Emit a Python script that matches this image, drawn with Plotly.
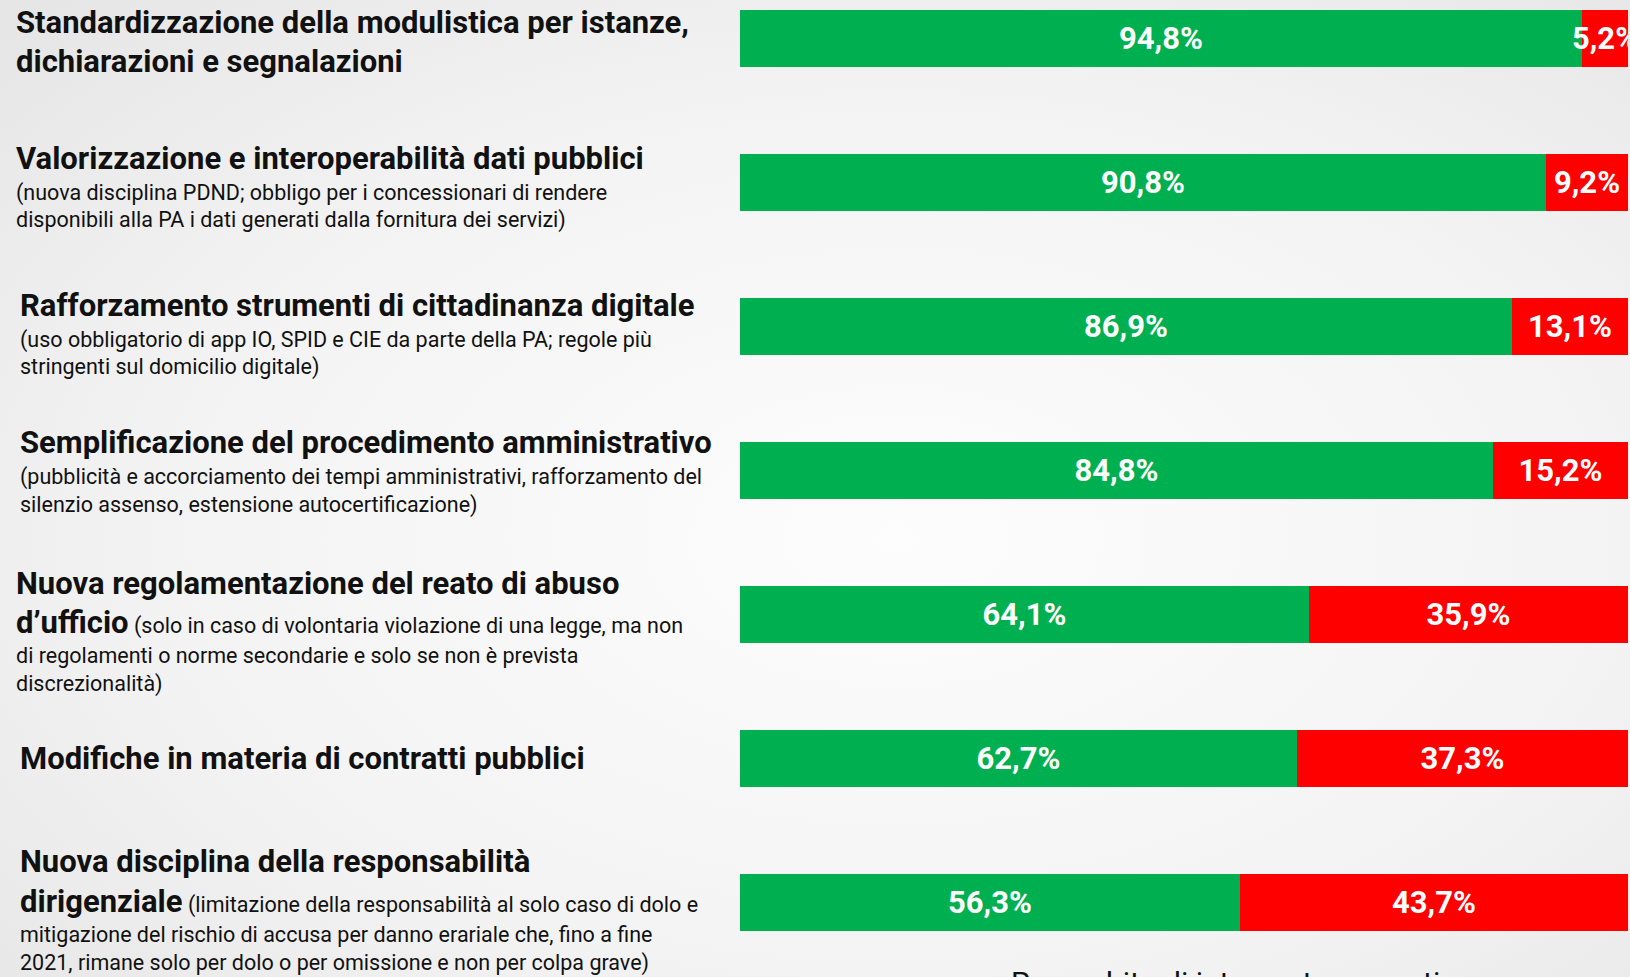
import base64
import plotly.graph_objects as go

# data
CATEGORIES = [
    'Standardizzazione modulistica',
    'Dati pubblici',
    'Cittadinanza digitale',
    'Procedimento amministrativo',
    'Abuso d\'ufficio',
    'Contratti pubblici',
    'Responsabilità dirigenziale',
]
FAVOREVOLI = [94.8, 90.8, 86.9, 84.8, 64.1, 62.7, 56.3]
CONTRARI = [5.2, 9.2, 13.1, 15.2, 35.9, 37.3, 43.7]

LABEL_LINES = [
    ['<b>Standardizzazione della modulistica per istanze,</b>',
     '<b>dichiarazioni e segnalazioni</b>'],
    ['<b>Valorizzazione e interoperabilità dati pubblici</b>',
     '(nuova disciplina PDND; obbligo per i concessionari di rendere',
     'disponibili alla PA i dati generati dalla fornitura dei servizi)'],
    ['<b>Rafforzamento strumenti di cittadinanza digitale</b>',
     '(uso obbligatorio di app IO, SPID e CIE da parte della PA; regole più',
     'stringenti sul domicilio digitale)'],
    ['<b>Semplificazione del procedimento amministrativo</b>',
     '(pubblicità e accorciamento dei tempi amministrativi, rafforzamento del',
     'silenzio assenso, estensione autocertificazione)'],
    ['<b>Nuova regolamentazione del reato di abuso</b>',
     '<b>d’ufficio</b> (solo in caso di volontaria violazione di una legge, ma non',
     'di regolamenti o norme secondarie e solo se non è prevista',
     'discrezionalità)'],
    ['<b>Modifiche in materia di contratti pubblici</b>'],
    ['<b>Nuova disciplina della responsabilità</b>',
     '<b>dirigenziale</b> (limitazione della responsabilità al solo caso di dolo e',
     'mitigazione del rischio di accusa per danno erariale che, fino a fine',
     '2021, rimane solo per dolo o per omissione e non per colpa grave)'],
]
FOOTER_TEXT = 'Per ambito di intervento normativo'

# layout (pixels)
W, H = 1630, 977
LEFT, RIGHT = 740, 2
LINE_OFFSETS = [
    [-16, 23],
    [-24, 10, 37],
    [-21, 13, 40],
    [-28, 6, 34],
    [-31, 8, 41, 69],
    [0],
    [-41, -1, 32, 60],
]
LABEL_X = [14, 14, 18, 18, 14, 18, 18]
GREEN = '#00b050'
RED = '#ff0000'
FONT = 'Roboto, sans-serif'


def pct(v):
    return f'{v:.1f}'.replace('.', ',') + '%'


def bold_size(line):
    # bold parts bigger than the explanatory text
    return line.replace('<b>', "<span style='font-size:31px'><b>").replace('</b>', '</b></span>')


bg_svg = f'''<svg xmlns="http://www.w3.org/2000/svg" width="{W}" height="{H}">
<defs><radialGradient id="g" cx="55%" cy="55%" r="75%">
<stop offset="0" stop-color="#fdfdfd"/><stop offset="0.6" stop-color="#f3f3f3"/>
<stop offset="1" stop-color="#e6e6e6"/></radialGradient></defs>
<rect width="100%" height="100%" fill="url(#g)"/></svg>'''
bg_uri = 'data:image/svg+xml;base64,' + base64.b64encode(bg_svg.encode()).decode()

fig = go.Figure()
for vals, colour, name in [(FAVOREVOLI, GREEN, 'Favorevoli'), (CONTRARI, RED, 'Contrari')]:
    fig.add_trace(go.Bar(y=CATEGORIES, x=vals, orientation='h', width=0.4,
                         marker=dict(color=colour, line=dict(width=0)),
                         text=[pct(v) for v in vals], textposition='inside',
                         insidetextanchor='middle', constraintext='none', textangle=0,
                         textfont=dict(family=FONT, size=31, color='white', weight='bold'),
                         hoverinfo='skip', name=name))

plot_w = W - LEFT - RIGHT
annotations = []
for i, lines in enumerate(LABEL_LINES):
    for line, off in zip(lines, LINE_OFFSETS[i]):
        annotations.append(dict(
            text=bold_size(line), xref='paper', yref='y',
            x=(LABEL_X[i] - LEFT) / plot_w, y=CATEGORIES[i],
            xanchor='left', yanchor='middle', yshift=-off, showarrow=False,
            align='left', font=dict(family=FONT, size=21.5, color='#111111')))
# footer line, mostly below the visible page as in the reference
annotations.append(dict(
    text=FOOTER_TEXT, xref='paper', yref='paper', x=0.565, y=0,
    xanchor='center', yanchor='top', yshift=14, showarrow=False,
    font=dict(family=FONT, size=30, color='#111111')))

spacing = 144
first = 38.5
fig.update_layout(
    width=W, height=H, barmode='stack', showlegend=False, bargap=0,
    margin=dict(l=LEFT, r=RIGHT, t=0, b=0),
    paper_bgcolor='#f1f1f1', plot_bgcolor='rgba(0,0,0,0)',
    images=[dict(source=bg_uri, xref='paper', yref='paper',
                 x=-LEFT / plot_w, y=1, sizex=W / plot_w, sizey=1,
                 xanchor='left', yanchor='top', sizing='stretch', layer='below')],
    annotations=annotations,
)
fig.update_xaxes(range=[0, 100], visible=False)
fig.update_yaxes(type='category', categoryarray=CATEGORIES, visible=False,
                 range=[(H - first) / spacing, -first / spacing])

fig.write_html('out.html', config={'displayModeBar': False},
               post_script="document.body.style.margin='0';")
